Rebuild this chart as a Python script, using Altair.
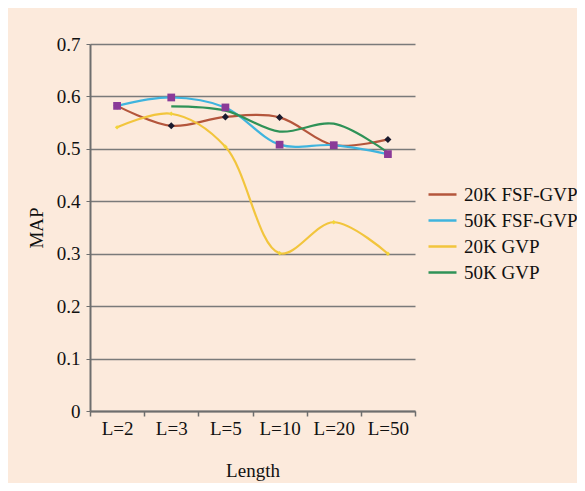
import altair as alt
import pandas as pd

categories = ["L=2", "L=3", "L=5", "L=10", "L=20", "L=50"]
series_names = ["20K FSF-GVP", "50K FSF-GVP", "20K GVP", "50K GVP"]
fsf20k = [0.582, 0.544, 0.561, 0.560, 0.507, 0.518]
fsf50k = [0.582, 0.598, 0.579, 0.508, 0.507, 0.490]
gvp20k = [0.541, 0.567, 0.504, 0.301, 0.360, 0.300]
gvp50k = [None, 0.581, 0.573, 0.533, 0.548, 0.493]

line_colors = ["#B4563C", "#3FB4DE", "#F2C53D", "#2F9257"]
marker_colors = ["#1A1A2E", "#8A3A98", "#F2D53A", "#2F9257"]

rows = []
for name, vals in zip(series_names, [fsf20k, fsf50k, gvp20k, gvp50k]):
    for c, v in zip(categories, vals):
        if v is not None:
            rows.append({"Length": c, "MAP": v, "Series": name})
df = pd.DataFrame(rows)

FONT = "Liberation Serif"
BG = "#FCEADC"
FS = 19

x_enc = alt.X("Length:N", sort=categories, title="Length",
              scale=alt.Scale(paddingInner=0, paddingOuter=0),
              axis=alt.Axis(tickBand="extent", labelAngle=0, tickSize=5,
                            labelPadding=3, titlePadding=23,
                            domainColor="#6E6E6E", domainWidth=2,
                            tickColor="#6E6E6E", tickWidth=1.5))
y_enc = alt.Y("MAP:Q", title="MAP",
              scale=alt.Scale(domain=[0, 0.7], nice=False),
              axis=alt.Axis(values=[0, 0.1, 0.2, 0.3, 0.4, 0.5, 0.6, 0.7],
                            labelExpr="datum.value == 0 ? '0' : format(datum.value, '.1f')",
                            tickSize=4, labelPadding=6, titlePadding=10,
                            domainColor="#6E6E6E", domainWidth=2,
                            tickColor="#6E6E6E", gridColor="#7A7A7A",
                            gridWidth=1.5))

color_scale = alt.Scale(domain=series_names, range=line_colors)

lines = alt.Chart(df).mark_line(interpolate="catmull-rom", strokeWidth=2.2).encode(
    x=x_enc, y=y_enc,
    color=alt.Color("Series:N", scale=color_scale, sort=series_names,
                    legend=alt.Legend(title=None, orient="none", legendX=337, legendY=135,
                                      symbolType="stroke", symbolSize=784,
                                      symbolStrokeWidth=2.5, labelFontSize=FS,
                                      labelFont=FONT, labelColor="#111",
                                      rowPadding=0, labelOffset=6)),
    detail="Series:N",
)

pts_a = alt.Chart(df).transform_filter(alt.datum.Series == series_names[0]).mark_point(
    shape="diamond", filled=True, size=50, color=marker_colors[0], opacity=1).encode(x=x_enc, y=y_enc)
pts_b = alt.Chart(df).transform_filter(alt.datum.Series == series_names[1]).mark_point(
    shape="square", filled=True, size=60, color=marker_colors[1], opacity=1).encode(x=x_enc, y=y_enc)
pts_c = alt.Chart(df).transform_filter(alt.datum.Series == series_names[2]).mark_point(
    shape="diamond", filled=True, size=20, color=marker_colors[2], opacity=1).encode(x=x_enc, y=y_enc)

chart = alt.layer(lines, pts_a, pts_b, pts_c).properties(
    width=325, height=367,
    autosize=alt.AutoSizeParams(type="none"),
    padding={"left": 82, "top": 36, "right": 162, "bottom": 72},
    background=BG,
).configure_view(stroke=None, fill=BG).configure_axis(
    labelFont=FONT, titleFont=FONT, labelFontSize=FS, titleFontSize=FS,
    labelColor="#111", titleColor="#111", titleFontWeight="normal",
)

chart.save("out.html", embed_options={"renderer": "svg", "actions": False})
